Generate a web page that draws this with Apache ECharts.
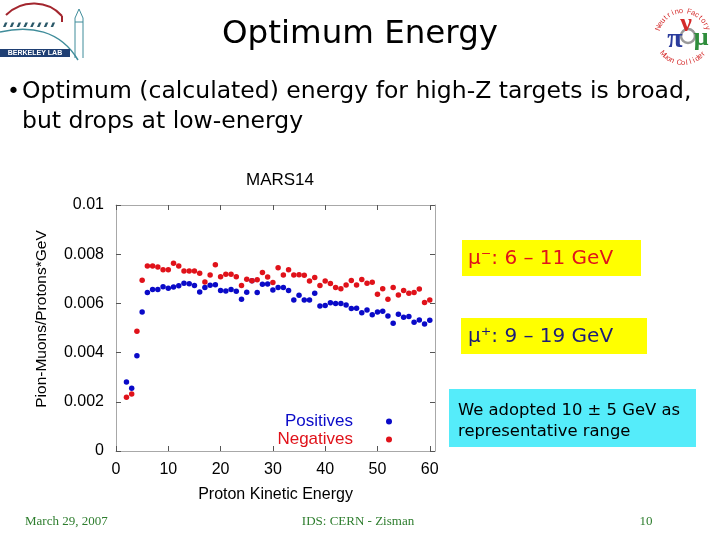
<!DOCTYPE html>
<html><head><meta charset="utf-8">
<script src="https://cdn.jsdelivr.net/npm/echarts@6/dist/echarts.min.js"></script>
<style>html,body{margin:0;padding:0;background:#fff}#c{width:720px;height:540px}</style>
</head><body><div id="c"></div>
<script>
// ---- data ----
const energies = [2,3,4,5,6,7,8,9,10,11,12,13,14,15,16,17,18,19,20,21,22,23,24,25,26,27,28,29,30,31,32,33,34,35,36,37,38,39,40,41,42,43,44,45,46,47,48,49,50,51,52,53,54,55,56,57,58,59,60];
const positives = [0.00280,0.00255,0.00387,0.00565,0.00644,0.00656,0.00657,0.00668,0.00662,0.00667,
  0.00672,0.00682,0.00680,0.00673,0.00646,0.00665,0.00674,0.00676,0.00652,0.00650,
  0.00657,0.00649,0.00617,0.00645,0.00692,0.00644,0.00678,0.00679,0.00654,0.00665,
  0.00665,0.00652,0.00614,0.00633,0.00614,0.00614,0.00641,0.00589,0.00591,0.00603,
  0.00600,0.00600,0.00593,0.00579,0.00580,0.00562,0.00573,0.00554,0.00565,0.00568,
  0.00549,0.00519,0.00556,0.00544,0.00547,0.00523,0.00533,0.00516,0.00531];
const negatives = [0.00218,0.00232,0.00487,0.00694,0.00752,0.00752,0.00748,0.00737,0.00737,0.00763,
  0.00752,0.00732,0.00732,0.00732,0.00723,0.00687,0.00715,0.00757,0.00708,0.00718,
  0.00718,0.00708,0.00673,0.00698,0.00692,0.00696,0.00726,0.00707,0.00685,0.00745,
  0.00715,0.00737,0.00715,0.00716,0.00714,0.00691,0.00705,0.00673,0.00691,0.00681,
  0.00665,0.00660,0.00675,0.00693,0.00675,0.00697,0.00682,0.00686,0.00637,0.00660,
  0.00617,0.00665,0.00634,0.00652,0.00641,0.00644,0.00659,0.00604,0.00614];
const xTicks = [0,10,20,30,40,50,60];
const yTicks = [0,0.002,0.004,0.006,0.008,0.01];
const yTickLabels = ['0','0.002','0.004','0.006','0.008','0.01'];
const seriesNames = ['Positives','Negatives'];

// ---- styles ----
const BLUE = '#0a0ac8', RED = '#e0121a';
const SANS = '"Liberation Sans", Arial, sans-serif';
const COMIC = '"DejaVu Sans", sans-serif';
const SERIF = '"Liberation Serif", "Times New Roman", serif';
const GREEN = '#2d7d2d';

const chart = echarts.init(document.getElementById('c'), null, {renderer:'canvas'});

const axisLine = {show:true, onZero:false, lineStyle:{color:'#a8a8a8', width:1}};
const tickStyle = {color:'#555', width:1};

// circular text for right logo
function arcText(str, cx, cy, r, a0, a1, bottom) {
  const els = [];
  const n = str.length;
  for (let i = 0; i < n; i++) {
    const a = a0 + (a1 - a0) * (n === 1 ? 0.5 : i / (n - 1));
    const rad = a * Math.PI / 180;
    els.push({type:'text', style:{text:str[i], x: cx + r*Math.cos(rad), y: cy + r*Math.sin(rad),
      font:'7.5px ' + SANS, fill:'#d42a2a', align:'center', verticalAlign:'middle'},
      rotation: bottom ? -(a - 90) * Math.PI/180 : -(a + 90) * Math.PI/180,
      originX: cx + r*Math.cos(rad), originY: cy + r*Math.sin(rad)});
  }
  return els;
}

const windows = [];
for (let i = 0; i < 8; i++) {
  windows.push({type:'polygon', shape:{points:[[3+i*6.8,27],[5+i*6.8,22.5],[7.5+i*6.8,22.5],[5.5+i*6.8,27]]},
    style:{fill:'#2a5868'}});
}

const graphics = [
  // Left logo
  {type:'bezierCurve', shape:{x1:6,y1:15,cpx1:22,cpy1:-1,cpx2:48,cpy2:0,x2:62,y2:16}, style:{stroke:'#a3262e', lineWidth:2, fill:null}},
  {type:'line', shape:{x1:62,y1:16,x2:62,y2:22}, style:{stroke:'#a3262e', lineWidth:2}},
  ...windows,
  {type:'bezierCurve', shape:{x1:0,y1:32,cpx1:30,cpy1:25,cpx2:60,cpy2:30,x2:78,y2:60}, style:{stroke:'#3f8c9a', lineWidth:1.5, fill:null}},
  {type:'polyline', shape:{points:[[75,58],[75,18],[79,9],[83,18],[83,58]]}, style:{stroke:'#3f8c9a', lineWidth:1, fill:null}},
  {type:'line', shape:{x1:75,y1:22,x2:83,y2:22}, style:{stroke:'#3f8c9a', lineWidth:1}},
  {type:'rect', shape:{x:0,y:49,width:70,height:8}, style:{fill:'#1f3f73'}},
  {type:'text', style:{text:'BERKELEY LAB', x:35, y:53.5, font:'bold 7px ' + SANS, fill:'#fff', align:'center', verticalAlign:'middle'}},
  // Right logo
  ...arcText('Neutrino Factory', 683, 37, 26, -160, -20, false),
  ...arcText('Muon Collider', 683, 37, 26, 140, 40, true),
  {type:'circle', shape:{cx:688, cy:36, r:7}, style:{stroke:'#9a9a9a', lineWidth:2.5, fill:null}},
  {type:'text', style:{text:'π', x:675, y:40, font:'bold 28px ' + SERIF, fill:'#2b3c9c', align:'center', verticalAlign:'middle'}},
  {type:'text', style:{text:'ν', x:686, y:24, font:'bold 26px ' + SERIF, fill:'#d42a2a', align:'center', verticalAlign:'middle'}},
  {type:'text', style:{text:'μ', x:701, y:38, font:'bold 26px ' + SERIF, fill:'#2f8d3c', align:'center', verticalAlign:'middle'}},
  // Bullet text
  {type:'text', style:{text:'•', x:7, y:92, font:'22px ' + COMIC, fill:'#000', verticalAlign:'middle'}},
  {type:'text', style:{text:'Optimum (calculated) energy for high-Z targets is broad,', x:22, y:92, font:'23.5px ' + COMIC, fill:'#000', verticalAlign:'middle'}},
  {type:'text', style:{text:'but drops at low-energy', x:22, y:122, font:'23.5px ' + COMIC, fill:'#000', verticalAlign:'middle'}},
  // Annotation boxes
  {type:'rect', shape:{x:462,y:240,width:179,height:36}, style:{fill:'#ffff00'}},
  {type:'text', style:{text:'μ⁻: 6 – 11 GeV', x:468, y:259, font:'20px ' + COMIC, fill:'#e0141a', verticalAlign:'middle'}},
  {type:'rect', shape:{x:461,y:318,width:186,height:36}, style:{fill:'#ffff00'}},
  {type:'text', style:{text:'μ⁺: 9 – 19 GeV', x:468, y:337, font:'20px ' + COMIC, fill:'#1c1c78', verticalAlign:'middle'}},
  {type:'rect', shape:{x:449,y:389,width:247,height:58}, style:{fill:'#55ecfa'}},
  {type:'text', style:{text:'We adopted 10 ± 5 GeV as', x:458, y:411, font:'16.4px ' + COMIC, fill:'#000', verticalAlign:'middle'}},
  {type:'text', style:{text:'representative range', x:458, y:432, font:'16.4px ' + COMIC, fill:'#000', verticalAlign:'middle'}},
  // Footer
  {type:'text', style:{text:'March 29, 2007', x:25, y:522, font:'13px ' + SERIF, fill:GREEN, verticalAlign:'middle'}},
  {type:'text', style:{text:'IDS: CERN - Zisman', x:358, y:522, font:'13px ' + SERIF, fill:GREEN, align:'center', verticalAlign:'middle'}},
  {type:'text', style:{text:'10', x:646, y:522, font:'13px ' + SERIF, fill:GREEN, align:'center', verticalAlign:'middle'}}
];

const option = {
  backgroundColor:'#fff',
  animation:false,
  title:[
    {text:'Optimum Energy', left:'center', top:13, textStyle:{fontFamily:COMIC, fontSize:32.5, fontWeight:'normal', color:'#000'}},
    {text:'MARS14', left:275, top:167, textAlign:'center', textStyle:{fontFamily:SANS, fontSize:17, fontWeight:'normal', color:'#000'}}
  ],
  grid:{left:116, top:205, right:285, bottom:89, containLabel:false},
  legend:{
    orient:'vertical', align:'right', right:323, top:408,
    icon:'circle', itemWidth:6, itemHeight:6, itemGap:1,
    selectedMode:false,
    textStyle:{fontFamily:SANS, fontSize:17, lineHeight:17, padding:[0,28,0,0]},
    data:[{name:seriesNames[0], textStyle:{color:BLUE}}, {name:seriesNames[1], textStyle:{color:RED}}]
  },
  xAxis:[
    {type:'value', min:0, max:61, position:'bottom', axisLine,
     axisTick:{show:true, inside:true, length:5, customValues:xTicks, lineStyle:tickStyle},
     axisLabel:{customValues:xTicks, margin:11, fontFamily:SANS, fontSize:16, color:'#000'},
     splitLine:{show:false},
     name:'Proton Kinetic Energy', nameLocation:'middle', nameGap:36,
     nameTextStyle:{fontFamily:SANS, fontSize:16, color:'#000'}},
    {type:'value', min:0, max:61, position:'top', axisLine,
     axisTick:{show:true, inside:true, length:5, customValues:xTicks, lineStyle:tickStyle},
     axisLabel:{show:false}, splitLine:{show:false}}
  ],
  yAxis:[
    {type:'value', min:0, max:0.01, position:'left', axisLine,
     axisTick:{show:true, inside:true, length:5, customValues:yTicks, lineStyle:tickStyle},
     axisLabel:{customValues:yTicks, margin:12, fontFamily:SANS, fontSize:16, color:'#000',
       formatter:(v)=>{ const i = yTicks.findIndex(t=>Math.abs(t-v)<1e-9); return i>=0 ? yTickLabels[i] : ''; }},
     splitLine:{show:false},
     name:'Pion-Muons/Protons*GeV', nameLocation:'middle', nameGap:66,
     nameTextStyle:{fontFamily:SANS, fontSize:15.5, color:'#000', padding:[0,0,0,18]}},
    {type:'value', min:0, max:0.01, position:'right', axisLine,
     axisTick:{show:true, inside:true, length:5, customValues:yTicks, lineStyle:tickStyle},
     axisLabel:{show:false}, splitLine:{show:false}}
  ],
  series:[
    {name:seriesNames[0], type:'scatter', xAxisIndex:0, yAxisIndex:0, symbolSize:5.5,
     itemStyle:{color:BLUE, opacity:1}, data:energies.map((e,i)=>[e, positives[i]])},
    {name:seriesNames[1], type:'scatter', xAxisIndex:0, yAxisIndex:0, symbolSize:5.5,
     itemStyle:{color:RED, opacity:1}, data:energies.map((e,i)=>[e, negatives[i]])}
  ],
  graphic:graphics
};
chart.setOption(option);
</script></body></html>
